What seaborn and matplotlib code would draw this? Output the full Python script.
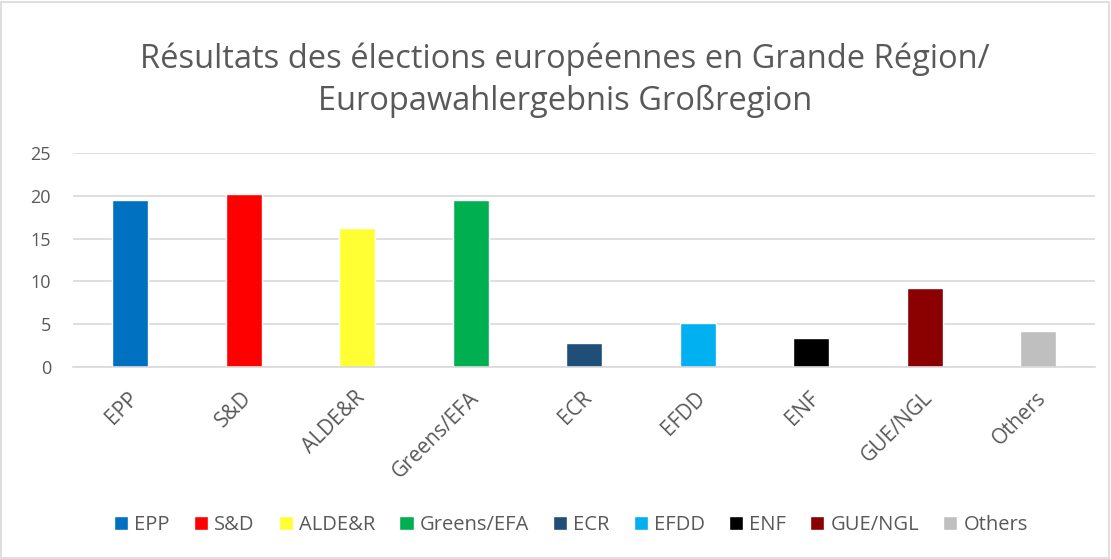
import seaborn as sns
import matplotlib.pyplot as plt
import pandas as pd
from matplotlib.patches import Rectangle
from matplotlib.transforms import ScaledTranslation

parties = ["EPP", "S&D", "ALDE&R", "Greens/EFA", "ECR", "EFDD", "ENF", "GUE/NGL", "Others"]
results = [19.5, 20.2, 16.25, 19.5, 2.8, 5.2, 3.35, 9.2, 4.2]
colors = ["#0070c0", "#ff0000", "#ffff33", "#00b050", "#1f4e79", "#00b0f0", "#000000", "#8b0000", "#bfbfbf"]

sns.set_style("white")
plt.rcParams['font.family'] = ['Open Sans', 'DejaVu Sans']
grey = "#595959"

df = pd.DataFrame({"party": parties, "result": results})

fig = plt.figure(figsize=(11.11, 5.59), dpi=100)
ax = fig.add_axes([0.066, 0.3435, 0.9194, 0.3825])

sns.barplot(data=df, x="party", y="result", hue="party", palette=colors,
            width=0.317, dodge=False, saturation=1, legend=True, ax=ax)

ax.set_ylim(0, 25)
ax.set_yticks([0, 5, 10, 15, 20, 25])
ax.set_xlim(-0.5, len(parties) - 0.5)
ax.yaxis.grid(True, color="#d9d9d9", linewidth=1.2)
ax.set_axisbelow(True)
for s in ["top", "right", "left"]:
    ax.spines[s].set_visible(False)
ax.spines["bottom"].set_color("#d9d9d9")
ax.spines["bottom"].set_linewidth(1.2)
ax.tick_params(axis="y", length=0, labelsize=13, colors=grey, pad=16)
ax.tick_params(axis="x", length=0, labelsize=15, colors=grey, pad=20)
ax.set_xlabel("")
ax.set_ylabel("")

shift = ScaledTranslation(0.05, 0, fig.dpi_scale_trans)
for lbl in ax.get_xticklabels():
    lbl.set_rotation(45)
    lbl.set_ha("right")
    lbl.set_va("center")
    lbl.set_rotation_mode("anchor")
    lbl.set_transform(lbl.get_transform() + shift)

sns.move_legend(ax, "center", bbox_to_anchor=(0.514, 0.0608), bbox_transform=fig.transFigure,
                ncol=9, frameon=False, fontsize=14.5, handlelength=0.7, handleheight=0.7,
                handletextpad=0.3, columnspacing=1.2, title=None)
for t in ax.get_legend().get_texts():
    t.set_color(grey)

fig.text(0.5086, 0.879, "Résultats des élections européennes en Grande Région/",
         ha="center", va="baseline", fontsize=23.5, color=grey)
fig.text(0.5086, 0.803, "Europawahlergebnis Großregion",
         ha="center", va="baseline", fontsize=23.5, color=grey)

fig.add_artist(Rectangle((0.001, 0.002), 0.997, 0.995, transform=fig.transFigure,
                         fill=False, edgecolor="#d9d9d9", linewidth=1.2))

fig.savefig("out.png", dpi=100)
